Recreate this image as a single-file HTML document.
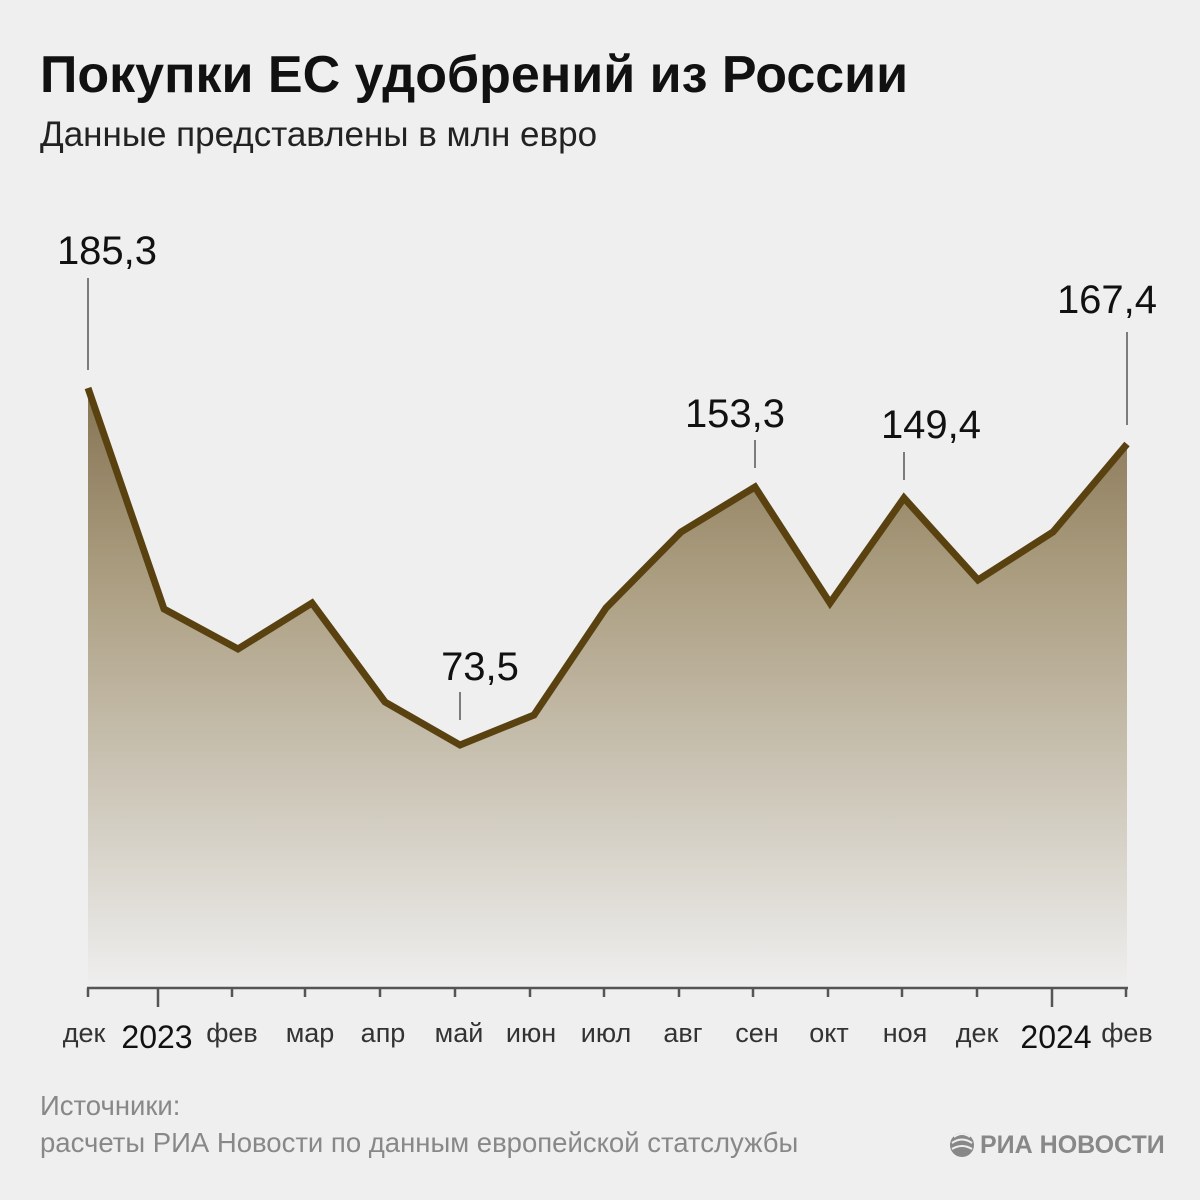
<!DOCTYPE html>
<html><head><meta charset="utf-8"><style>
body{margin:0;background:#efefef;}
svg{display:block}
</style></head><body>
<svg width="1200" height="1200" xmlns="http://www.w3.org/2000/svg" font-family="Liberation Sans, sans-serif">
<defs><linearGradient id="g" gradientUnits="userSpaceOnUse" x1="0" y1="380" x2="0" y2="985">
<stop offset="0" stop-color="#847252"/><stop offset="0.3" stop-color="#a89a7c"/><stop offset="1" stop-color="#eeeeee"/></linearGradient></defs>
<rect width="1200" height="1200" fill="#efefef"/>
<text x="40" y="92" font-size="52" font-weight="bold" fill="#111">Покупки ЕС удобрений из России</text>
<text x="40" y="146" font-size="35" fill="#222">Данные представлены в млн евро</text>
<polygon fill="url(#g)" points="88,388 164,609 238,649 312,603 385,702 460,745 534,715 606,608 681,532 755,487 830,603 904,498 978,580 1053,532 1127,444 1127,985 88,985"/>
<polyline fill="none" stroke="#5a4210" stroke-width="7" stroke-linejoin="miter" points="88,388 164,609 238,649 312,603 385,702 460,745 534,715 606,608 681,532 755,487 830,603 904,498 978,580 1053,532 1127,444"/>
<g stroke="#555" stroke-width="1.5">
<line x1="88" y1="278" x2="88" y2="370"/>
<line x1="460" y1="692" x2="460" y2="720"/>
<line x1="755" y1="440" x2="755" y2="468"/>
<line x1="904" y1="452" x2="904" y2="480"/>
<line x1="1127" y1="332" x2="1127" y2="425"/>
</g>
<g font-size="40" fill="#111" text-anchor="middle">
<text x="107" y="264">185,3</text>
<text x="480" y="680">73,5</text>
<text x="735" y="427">153,3</text>
<text x="931" y="438">149,4</text>
<text x="1107" y="313">167,4</text>
</g>
<g stroke="#555" stroke-width="2.5">
<line x1="87" y1="988" x2="1128" y2="988"/>
<line x1="88" y1="988" x2="88" y2="997"/>
<line x1="158" y1="988" x2="158" y2="1007"/>
<line x1="232" y1="988" x2="232" y2="997"/>
<line x1="305" y1="988" x2="305" y2="997"/>
<line x1="380" y1="988" x2="380" y2="997"/>
<line x1="455" y1="988" x2="455" y2="997"/>
<line x1="530" y1="988" x2="530" y2="997"/>
<line x1="604" y1="988" x2="604" y2="997"/>
<line x1="679" y1="988" x2="679" y2="997"/>
<line x1="753" y1="988" x2="753" y2="997"/>
<line x1="828" y1="988" x2="828" y2="997"/>
<line x1="902" y1="988" x2="902" y2="997"/>
<line x1="977" y1="988" x2="977" y2="997"/>
<line x1="1052" y1="988" x2="1052" y2="1007"/>
<line x1="1126" y1="988" x2="1126" y2="997"/>
</g>
<g font-size="27" fill="#333" text-anchor="middle">
<text x="84" y="1042">дек</text>
<text x="232" y="1042">фев</text>
<text x="310" y="1042">мар</text>
<text x="383" y="1042">апр</text>
<text x="459" y="1042">май</text>
<text x="531" y="1042">июн</text>
<text x="606" y="1042">июл</text>
<text x="683" y="1042">авг</text>
<text x="757" y="1042">сен</text>
<text x="829" y="1042">окт</text>
<text x="905" y="1042">ноя</text>
<text x="977" y="1042">дек</text>
<text x="1127" y="1042">фев</text>
</g>
<g font-size="32" fill="#111" text-anchor="middle">
<text x="157" y="1048">2023</text>
<text x="1056" y="1048">2024</text>
</g>
<text x="40" y="1115" font-size="27.5" fill="#888">Источники:</text>
<text x="40" y="1152" font-size="27.5" fill="#888">расчеты РИА Новости по данным европейской статслужбы</text>
<circle cx="962" cy="1145" r="12" fill="#888"/>
<path d="M954 1137 q8 -6 16 0 M952 1143 q10 -7 20 0 M952 1149 q10 -6 20 0" stroke="#efefef" stroke-width="2" fill="none"/>
<text x="980" y="1153" font-size="25" font-weight="bold" fill="#888">РИА НОВОСТИ</text>
</svg>
</body></html>
